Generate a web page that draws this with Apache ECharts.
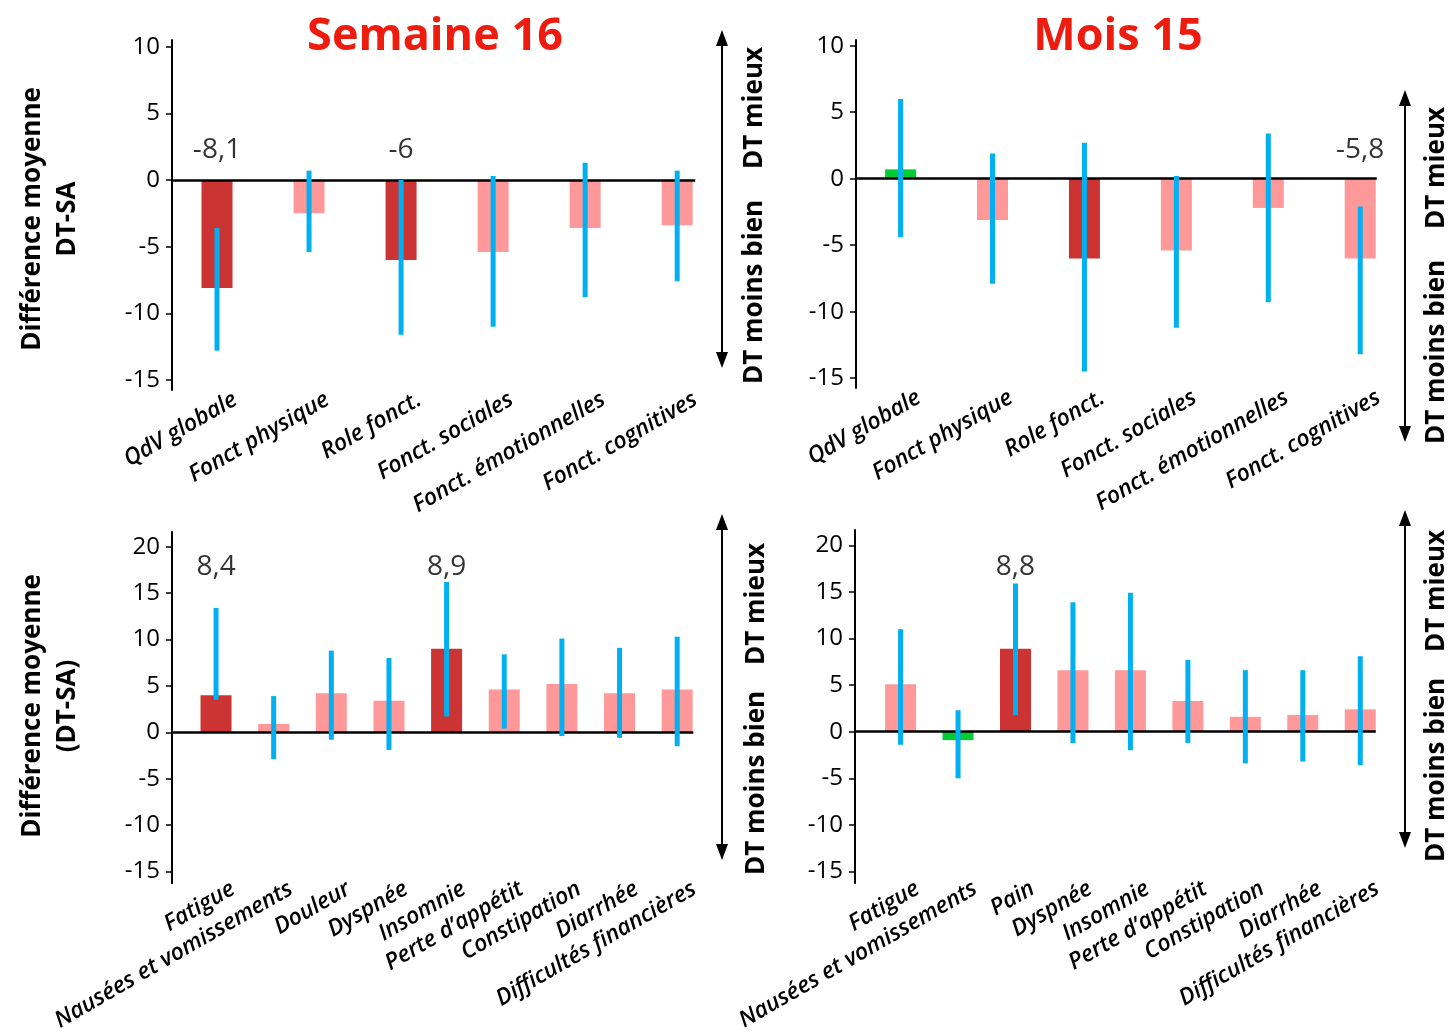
<!DOCTYPE html>
<html>
<head>
<meta charset="utf-8">
<script src="https://cdn.jsdelivr.net/npm/echarts@6/dist/echarts.min.js"></script>
<style>
html, body { margin: 0; padding: 0; background: #fff; }
#chart { width: 1450px; height: 1034px; }
</style>
</head>
<body>
<div id="chart"></div>
<script>
// catégories
var qolCats = ['QdV globale', 'Fonct physique', 'Role fonct.', 'Fonct. sociales', 'Fonct. émotionnelles', 'Fonct. cognitives'];
var symCatsW16 = ['Fatigue', 'Nausées et vomissements', 'Douleur', 'Dyspnée', 'Insomnie', 'Perte d’appétit', 'Constipation', 'Diarrhée', 'Difficultés financières'];
var symCatsM15 = ['Fatigue', 'Nausées et vomissements', 'Pain', 'Dyspnée', 'Insomnie', 'Perte d’appétit', 'Constipation', 'Diarrhée', 'Difficultés financières'];

// Semaine 16 - qualité de vie
var w16QolMean = [-8.1, -2.5, -6.0, -5.4, -3.6, -3.4];
var w16QolLow = [-12.8, -5.4, -11.6, -11.0, -8.8, -7.6];
var w16QolHigh = [-3.6, 0.7, 0.0, 0.3, 1.3, 0.7];
var w16QolSig = [1, 0, 1, 0, 0, 0];
var w16QolNotes = ['-8,1', '', '-6', '', '', ''];

// Mois 15 - qualité de vie
var m15QolMean = [0.7, -3.1, -6.0, -5.4, -2.2, -6.0];
var m15QolLow = [-4.4, -7.9, -14.5, -11.2, -9.3, -13.2];
var m15QolHigh = [6.0, 1.9, 2.7, 0.2, 3.4, -2.1];
var m15QolSig = [0, 0, 1, 0, 0, 0];
var m15QolNotes = ['', '', '', '', '', '-5,8'];

// Semaine 16 - symptômes
var w16SymMean = [4.0, 0.9, 4.2, 3.4, 9.0, 4.6, 5.2, 4.2, 4.6];
var w16SymLow = [3.5, -2.9, -0.8, -1.9, 1.7, 0.4, -0.4, -0.6, -1.5];
var w16SymHigh = [13.4, 3.9, 8.8, 8.0, 16.2, 8.4, 10.1, 9.1, 10.3];
var w16SymSig = [1, 0, 0, 0, 1, 0, 0, 0, 0];
var w16SymNotes = ['8,4', '', '', '', '8,9', '', '', '', ''];

// Mois 15 - symptômes
var m15SymMean = [5.1, -0.9, 8.9, 6.6, 6.6, 3.3, 1.6, 1.8, 2.4];
var m15SymLow = [-1.4, -5.0, 1.8, -1.2, -2.0, -1.2, -3.4, -3.2, -3.6];
var m15SymHigh = [11.0, 2.3, 15.9, 13.9, 14.9, 7.7, 6.6, 6.6, 8.1];
var m15SymSig = [0, 0, 1, 0, 0, 0, 0, 0, 0];
var m15SymNotes = ['', '', '8,8', '', '', '', '', '', ''];

var qolTicks = [-15, -10, -5, 0, 5, 10];
var symTicks = [-15, -10, -5, 0, 5, 10, 15, 20];

var FONT = 'Open Sans';
var C_SIG = '#CC3333', C_NS = '#FF9999', C_GOOD = '#00CC33', C_ERR = '#00B0F0';

// grid/axes : xMin..xMax en unités de catégorie, zeroEnd = fin de la ligne du zéro
var panels = [
	{ cats: qolCats, mean: w16QolMean, low: w16QolLow, high: w16QolHigh, sig: w16QolSig, notes: w16QolNotes, better: 1, ticks: qolTicks,
	  grid: { left: 172, top: 40, width: 542, height: 350 }, xMin: -0.489, xMax: 5.4, zeroEnd: 5.196, yMin: -15.75, yMax: 10.5, noteY: 2.25, shift: 0.2, margin: 8 },
	{ cats: qolCats, mean: m15QolMean, low: m15QolLow, high: m15QolHigh, sig: m15QolSig, notes: m15QolNotes, better: 1, ticks: qolTicks,
	  grid: { left: 856, top: 40, width: 541, height: 348 }, xMin: -0.485, xMax: 5.4, zeroEnd: 5.18, yMin: -15.74, yMax: 10.43, noteY: 2.16, shift: 0.2, margin: 8 },
	{ cats: symCatsW16, mean: w16SymMean, low: w16SymLow, high: w16SymHigh, sig: w16SymSig, notes: w16SymNotes, better: -1, ticks: symTicks,
	  grid: { left: 172, top: 532, width: 534, height: 352 }, xMin: -0.764, xMax: 8.5, zeroEnd: 8.28, yMin: -16.27, yMax: 21.58, noteY: 17.85, shift: 0.3, margin: 4 },
	{ cats: symCatsM15, mean: m15SymMean, low: m15SymLow, high: m15SymHigh, sig: m15SymSig, notes: m15SymNotes, better: -1, ticks: symTicks,
	  grid: { left: 855, top: 530, width: 534, height: 353 }, xMin: -0.793, xMax: 8.5, zeroEnd: 8.27, yMin: -16.23, yMax: 21.64, noteY: 17.7, shift: 0.3, margin: 4 }
];

function barColor(p, k) {
	if (p.sig[k]) return C_SIG;
	if (p.mean[k] * p.better > 0) return C_GOOD;
	return C_NS;
}

function arrow(x, y1, y2) {
	return {
		type: 'group',
		children: [
			{ type: 'line', shape: { x1: x, y1: y1 + 10, x2: x, y2: y2 - 10 }, style: { stroke: '#000', lineWidth: 2 } },
			{ type: 'polygon', shape: { points: [[x, y1], [x - 6, y1 + 16], [x + 6, y1 + 16]] }, style: { fill: '#000' } },
			{ type: 'polygon', shape: { points: [[x, y2], [x - 6, y2 - 16], [x + 6, y2 - 16]] }, style: { fill: '#000' } }
		]
	};
}

function vText(text, x, y, size) {
	return {
		type: 'text', x: x, y: y, rotation: Math.PI / 2,
		style: { text: text, fill: '#000', font: 'bold ' + size + 'px "' + FONT + '"', align: 'center', verticalAlign: 'middle', lineHeight: 35 }
	};
}

var series = [];
panels.forEach(function (p, i) {
	series.push({
		type: 'bar', xAxisIndex: i, yAxisIndex: i, barWidth: 31,
		data: p.mean.map(function (v, k) { return { value: [k, v], itemStyle: { color: barColor(p, k) } }; }),
		markLine: {
			silent: true, symbol: ['none', 'none'], label: { show: false },
			lineStyle: { color: '#000', width: 2.5, type: 'solid' },
			data: [[{ coord: [p.xMin, 0] }, { coord: [p.zeroEnd, 0] }]]
		}
	});
	series.push({
		type: 'custom', xAxisIndex: i, yAxisIndex: i, z: 5,
		data: p.low.map(function (lo, k) { return [k, lo, p.high[k]]; }),
		encode: { x: 0, y: [1, 2] },
		renderItem: function (params, api) {
			var top = api.coord([api.value(0), api.value(2)]);
			var bot = api.coord([api.value(0), api.value(1)]);
			return { type: 'rect', shape: { x: top[0] - 2.5, y: top[1], width: 5, height: bot[1] - top[1] }, style: { fill: C_ERR } };
		}
	});
	series.push({
		type: 'scatter', xAxisIndex: i, yAxisIndex: i, symbolSize: 1, itemStyle: { color: 'rgba(0,0,0,0)' },
		data: p.notes.map(function (t, k) { return [k, p.noteY, t]; }).filter(function (d) { return d[2]; }),
		label: {
			show: true, position: 'inside', color: '#000', textBorderWidth: 0, fontFamily: FONT, fontSize: 28,
			formatter: function (params) { return params.data[2]; }
		}
	});
});

var option = {
	animation: false,
	backgroundColor: '#fff',
	grid: panels.map(function (p) { return p.grid; }),
	xAxis: panels.map(function (p, i) {
		return {
			type: 'value', gridIndex: i, min: p.xMin, max: p.xMax,
			axisLine: { show: false }, axisTick: { show: false }, splitLine: { show: false },
			axisLabel: {
				customValues: p.cats.map(function (c, k) { return k + p.shift; }),
				formatter: function (v) { return p.cats[Math.round(v - p.shift)]; },
				rotate: 30, margin: p.margin, color: '#000',
				fontFamily: FONT, fontSize: 23, fontStyle: 'italic', fontWeight: 600
			}
		};
	}),
	yAxis: panels.map(function (p, i) {
		return {
			type: 'value', gridIndex: i, min: p.yMin, max: p.yMax,
			splitLine: { show: false },
			axisLine: { show: true, onZero: false, lineStyle: { color: '#000', width: 2 } },
			axisTick: { show: true, customValues: p.ticks, length: 6, lineStyle: { color: '#000', width: 1.5 } },
			axisLabel: { customValues: p.ticks, margin: 12, color: '#000', fontFamily: FONT, fontSize: 24 }
		};
	}),
	series: series,
	graphic: [
		{ type: 'text', x: 435, y: 37, style: { text: 'Semaine 16', fill: '#EE1B0F', font: 'bold 45px "' + FONT + '"', align: 'center', verticalAlign: 'middle' } },
		{ type: 'text', x: 1118, y: 37, style: { text: 'Mois 15', fill: '#EE1B0F', font: 'bold 45px "' + FONT + '"', align: 'center', verticalAlign: 'middle' } },
		vText('Différence moyenne\nDT-SA', 50, 219, 26),
		vText('Différence moyenne\n(DT-SA)', 50, 706, 26),
		arrow(722, 30, 368),
		arrow(1405, 90, 442),
		arrow(722, 514, 860),
		arrow(1405, 510, 848),
		vText('DT mieux', 755, 108, 26),
		vText('DT moins bien', 755, 292, 26),
		vText('DT mieux', 1437, 168, 26),
		vText('DT moins bien', 1437, 352, 26),
		vText('DT mieux', 757, 604, 26),
		vText('DT moins bien', 757, 783, 26),
		vText('DT mieux', 1437, 591, 26),
		vText('DT moins bien', 1437, 770, 26)
	]
};

var myChart = echarts.init(document.getElementById('chart'));
myChart.setOption(option);
</script>
</body>
</html>
